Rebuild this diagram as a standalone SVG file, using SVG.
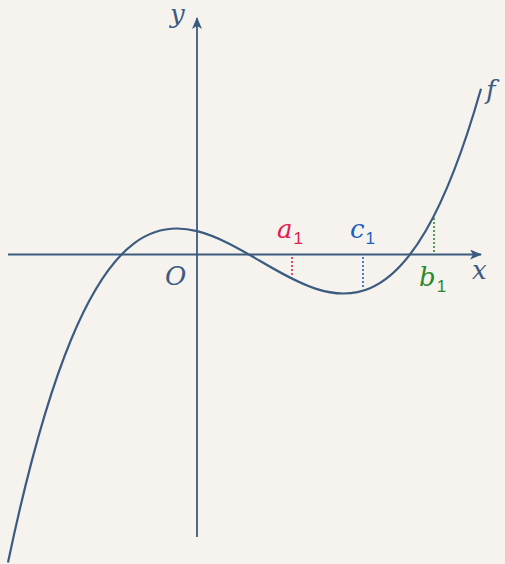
<svg xmlns="http://www.w3.org/2000/svg" width="505" height="564" viewBox="0 0 505 564">
<style>
.ax{stroke:#3b5b7f;stroke-width:1.8;fill:none}
.cv{stroke:#3b5b7f;stroke-width:2.2;fill:none}
.lbl{font-family:"DejaVu Serif","Liberation Serif",serif;font-style:italic;font-size:26px;fill:#3b5b7f}
.sub{font-family:"Liberation Sans","DejaVu Sans",sans-serif;font-style:normal;font-size:17px}
.dot{stroke-width:1.6;stroke-dasharray:2 2;fill:none}
.red{fill:#e0204f}
.blue{fill:#1f5fc0}
.green{fill:#2a8a2a}
</style>
<defs>
<marker id="arr" viewBox="0 0 12 10" refX="11" refY="5" markerWidth="12" markerHeight="10" markerUnits="userSpaceOnUse" orient="auto">
<path d="M0,0 L12,5 L0,10 L3,5 Z" fill="#3b5b7f"/>
</marker>
</defs>
<rect width="505" height="564" fill="#f6f3ef"/>
<g id="connectors">
<line id="x-axis" class="ax" x1="8" y1="254.5" x2="481" y2="254.5" marker-end="url(#arr)"/>
<line id="y-axis" class="ax" x1="197" y1="537" x2="197" y2="18" marker-end="url(#arr)"/>
<line id="a1-line" class="dot" stroke="#e0204f" x1="292" y1="257" x2="292" y2="277"/>
<line id="c1-line" class="dot" stroke="#1f5fc0" x1="363" y1="257" x2="363" y2="289"/>
<line id="b1-line" class="dot" stroke="#2a8a2a" x1="434" y1="218" x2="434" y2="252"/>
</g>
<g id="curve-f">
<path class="cv" d="M8,562.4 C165.67,-187.5 323.33,642.3 481,88.7"/>
</g>
<g id="labels">
<text id="lbl-y" class="lbl" x="170" y="23">y</text>
<text id="lbl-O" class="lbl" x="165" y="285" font-size="25">O</text>
<text id="lbl-x" class="lbl" x="472" y="279">x</text>
<text id="lbl-f" class="lbl" x="486" y="99">f</text>
<text id="lbl-a1" class="lbl red" x="277" y="238">a<tspan class="sub" dx="1" dy="6">1</tspan></text>
<text id="lbl-c1" class="lbl blue" x="350" y="238">c<tspan class="sub" dx="1" dy="6">1</tspan></text>
<text id="lbl-b1" class="lbl green" x="419" y="285.5">b<tspan class="sub" dx="1" dy="6">1</tspan></text>
</g>
</svg>
